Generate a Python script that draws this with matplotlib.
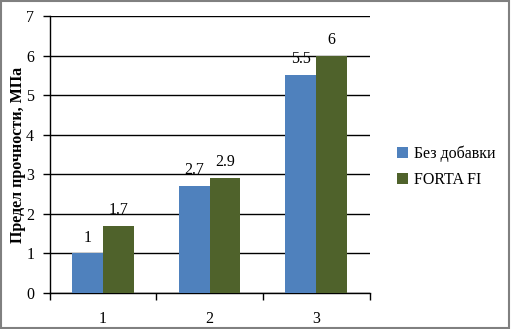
import numpy as np
import matplotlib.pyplot as plt
from matplotlib.patches import Rectangle

# Values from the chart
categories = ['1', '2', '3']
bez_dobavki = [1, 2.7, 5.5]
forta_fi = [1.7, 2.9, 6]
series_names = ['Без добавки', 'FORTA FI']
colors = ['#4f81bd', '#4f622b']

plt.rcParams['font.family'] = ['Liberation Serif', 'DejaVu Serif']

fig = plt.figure(figsize=(5.11, 3.29), dpi=100)
ax = fig.add_axes([49.5 / 511, 1 - 293 / 329, 320 / 511, 277 / 329])

x = np.arange(len(categories))
width = 0.29
b1 = ax.bar(x - width / 2, bez_dobavki, width, color=colors[0], label=series_names[0], zorder=3)
b2 = ax.bar(x + width / 2, forta_fi, width, color=colors[1], label=series_names[1], zorder=3)

# Value labels above bars
for bars, vals in [(b1, bez_dobavki), (b2, forta_fi)]:
    for rect, v in zip(bars, vals):
        ax.text(rect.get_x() + rect.get_width() / 2, v + 0.2, f'{v:g}',
                ha='center', va='bottom', fontsize=11.5, zorder=4)

ax.set_xlim(-0.5, 2.5)
ax.set_ylim(0, 7)
ax.set_yticks(range(0, 8))
ax.yaxis.grid(True, color='black', linewidth=1)
ax.set_axisbelow(True)
ax.set_xticks([-0.5, 0.5, 1.5, 2.5], minor=False)
ax.set_xticklabels([])
ax.set_xticks(x, minor=True)
ax.set_xticklabels(categories, minor=True)
ax.tick_params(axis='x', which='major', length=5, width=1, direction='out')
ax.tick_params(axis='x', which='minor', length=0, pad=13, labelsize=11.5)
ax.tick_params(axis='y', length=5, width=1, direction='out', labelsize=11.5, pad=6)

for side in ['top', 'right']:
    ax.spines[side].set_visible(False)
ax.spines['left'].set_linewidth(1)
ax.spines['bottom'].set_linewidth(1)

ax.set_ylabel('Предел прочности, МПа', fontsize=11.5, fontweight='bold', labelpad=0)

ax.legend(loc='center left', bbox_to_anchor=(1.04, 0.455), frameon=False,
          fontsize=11.5, handlelength=0.7, handleheight=0.7, handletextpad=0.4,
          labelspacing=0.65)

# Outer border of the chart area
fig.patches.append(Rectangle((0.002, 0.003), 0.995, 0.993, transform=fig.transFigure,
                             fill=False, edgecolor='#808080', linewidth=1.5))

fig.savefig('out.png', dpi=100)
